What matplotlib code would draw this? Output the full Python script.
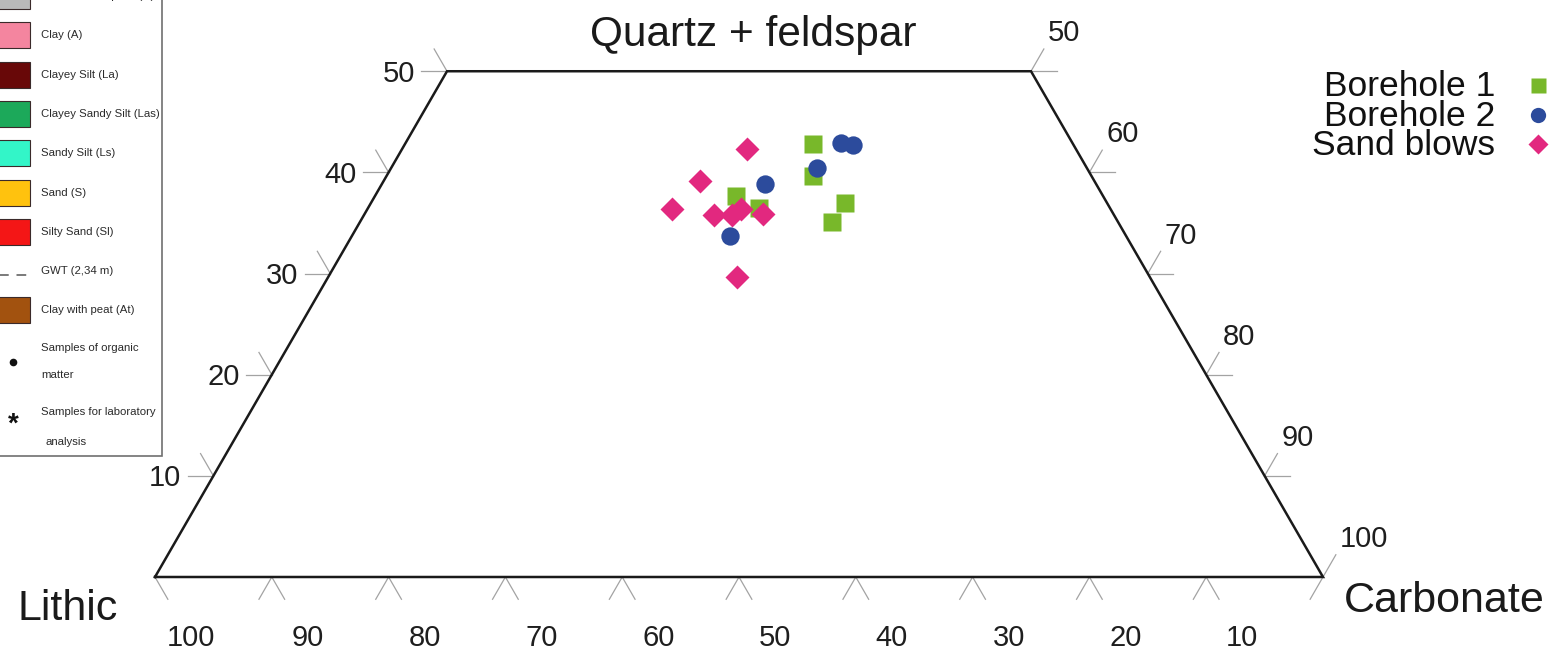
import numpy as np
import matplotlib
matplotlib.use("Agg")
import matplotlib.pyplot as plt
from matplotlib.patches import Rectangle

# ---------------- data (percent: Lithic, Quartz+feldspar, Carbonate) ----------------
bh1_lithic = [22.3, 23.9, 31.4, 30.0, 22.4, 24.5]
bh1_quartz = [42.8, 39.6, 37.7, 36.5, 37.0, 35.1]
bh1_carb = [34.9, 36.5, 30.9, 33.5, 40.6, 40.4]

bh2_lithic = [19.8, 18.9, 23.1, 28.3, 33.9]
bh2_quartz = [42.9, 42.7, 40.4, 38.9, 33.7]
bh2_carb = [37.3, 38.4, 36.5, 32.8, 32.4]

sb_lithic = [28.2, 33.8, 37.5, 34.2, 32.7, 31.6, 30.0, 35.3]
sb_quartz = [42.3, 39.1, 36.4, 35.8, 35.8, 36.4, 35.9, 29.7]
sb_carb = [29.5, 27.1, 26.1, 30.0, 31.5, 32.0, 34.1, 35.0]

series_names = ["Borehole 1", "Borehole 2", "Sand blows"]

left_ticks = [10, 20, 30, 40, 50]            # Quartz + feldspar
right_ticks = [50, 60, 70, 80, 90, 100]      # Carbonate
bottom_ticks = [100, 90, 80, 70, 60, 50, 40, 30, 20, 10]  # Lithic

legend_labels = ["Man-made deposit (R)", "Clay (A)", "Clayey Silt (La)",
                 "Clayey Sandy Silt (Las)", "Sandy Silt (Ls)", "Sand (S)",
                 "Silty Sand (Sl)", "GWT (2,34 m)", "Clay with peat (At)"]
legend_colors = ["#b9b9b9", "#f4859f", "#680808", "#1ca95a", "#33f5c8",
                 "#ffc20e", "#f41616", None, "#a2520f"]

# ---------------- helpers ----------------
S = np.sqrt(3) / 2


def tern(l, q, c):
    l, q, c = (np.asarray(v, float) for v in (l, q, c))
    tot = l + q + c
    q, c = q / tot * 100, c / tot * 100
    return c + q / 2, q * S


plt.rcParams['font.family'] = ['Liberation Sans', 'DejaVu Sans']

W, H = 1549, 650
fig = plt.figure(figsize=(W / 100, H / 100), dpi=100)
PX = 11.68
X0, Y0 = 155, 577
ax = fig.add_axes([0, 0, 1, 1])
ax.set_xlim(-X0 / PX, (W - X0) / PX)
ax.set_ylim(-(H - Y0) / PX, Y0 / PX)
ax.axis('off')

# outline (truncated at Quartz+feldspar = 50)
ox, oy = tern([100, 50, 0, 0, 100], [0, 50, 50, 0, 0], [0, 0, 50, 100, 0])
ax.plot(ox, oy, color='#1a1a1a', lw=1.8, solid_joinstyle='miter', zorder=3)

TL = 2.2
tick_kw = dict(color='#a3a3a3', lw=0.9, zorder=2)
up_left = np.array([-0.5, S])
up_right = np.array([0.5, S])
lab_kw = dict(textcoords='offset pixels', fontsize=21, color='#1e1e1e')

for q in left_ticks:
    x, y = tern(100 - q, q, 0)
    ax.plot([x, x - TL], [y, y], **tick_kw)
    ax.plot([x, x + TL * up_left[0]], [y, y + TL * up_left[1]], **tick_kw)
    ax.annotate(str(q), (x, y), xytext=(-32, -10.5), ha='right', va='baseline', **lab_kw)

for c in right_ticks:
    x, y = tern(0, 100 - c, c)
    if c < 100:
        ax.plot([x, x + TL], [y, y], **tick_kw)
    ax.plot([x, x + TL * up_right[0]], [y, y + TL * up_right[1]], **tick_kw)
    ax.annotate(str(c), (x, y), xytext=(17, 30), ha='left', va='baseline', **lab_kw)

for l in bottom_ticks + [0]:
    x, y = tern(l, 0, 100 - l)
    if l < 100:
        ax.plot([x, x - TL * up_right[0]], [y, y - TL * up_right[1]], **tick_kw)
    if l > 0:
        ax.plot([x, x - TL * up_left[0]], [y, y - TL * up_left[1]], **tick_kw)
    if l in bottom_ticks:
        ax.annotate(str(l), (x, y), xytext=(36, -68.5), ha='center', va='baseline', **lab_kw)

# data
c_green, c_blue, c_pink = '#78b82a', '#2c4b9c', '#e2287f'
x, y = tern(bh1_lithic, bh1_quartz, bh1_carb)
ax.plot(x, y, 's', ms=13.3, color=c_green, mec='none', zorder=5)
x, y = tern(sb_lithic, sb_quartz, sb_carb)
ax.plot(x, y, 'D', ms=12.2, color=c_pink, mec='none', zorder=6)
x, y = tern(bh2_lithic, bh2_quartz, bh2_carb)
ax.plot(x, y, 'o', ms=13.2, color=c_blue, mec='none', zorder=7)

# ---------------- overlay in pixel coordinates ----------------
ov = fig.add_axes([0, 0, 1, 1])
ov.set_xlim(0, W)
ov.set_ylim(H, 0)
ov.axis('off')
ov.patch.set_alpha(0)

ov.text(753, 46, "Quartz + feldspar", fontsize=30.5, ha='center', va='baseline', color='#1a1a1a')
ov.text(18, 620, "Lithic", fontsize=31, ha='left', va='baseline', color='#1a1a1a')
ov.text(1545, 612, "Carbonate", fontsize=31, ha='right', va='baseline', color='#1a1a1a')

# series legend (labels left of markers)
rows = [96, 125.5, 155]
mk = [('s', c_green, 10.8), ('o', c_blue, 11.0), ('D', c_pink, 10.6)]
for name, yb, (m, col, s) in zip(series_names, rows, mk):
    ov.text(1495, yb, name, fontsize=25.5, ha='right', va='baseline', color='#111111')
    ov.plot([1538], [yb - 11], m, ms=s, color=col, mec='none')

# lithology legend box (top-left)
lfs = 8.2
tcol = '#2a2a2a'
ov.add_patch(Rectangle((-5, -30), 167, 486, fill=False, ec='#707070', lw=1.2, zorder=1))
step = 39.3
for i, (lab, col) in enumerate(zip(legend_labels, legend_colors)):
    yc = -4 + i * step
    if col is None:
        ov.plot([-2, 30], [yc + 4, yc + 4], color='#7a7a7a', lw=1.4, ls=(0, (5, 4)))
    else:
        ov.add_patch(Rectangle((-3, yc - 13), 33, 26, fc=col, ec='#3a2a2a', lw=0.8))
    ov.text(41, yc, lab, fontsize=lfs, ha='left', va='center', color=tcol)

ov.plot([13], [362], 'o', ms=5.5, color='#111111', mec='none')
ov.text(41, 348, "Samples of organic", fontsize=lfs, ha='left', va='center', color=tcol)
ov.text(41, 375, "matter", fontsize=lfs, ha='left', va='center', color=tcol)
ov.text(13, 425, "*", fontsize=20, ha='center', va='center', color='#111111', fontweight='bold')
ov.text(41, 412, "Samples for laboratory", fontsize=lfs, ha='left', va='center', color=tcol)
ov.text(46, 442, "analysis", fontsize=lfs, ha='left', va='center', color=tcol)

fig.savefig('out.png', dpi=100)
